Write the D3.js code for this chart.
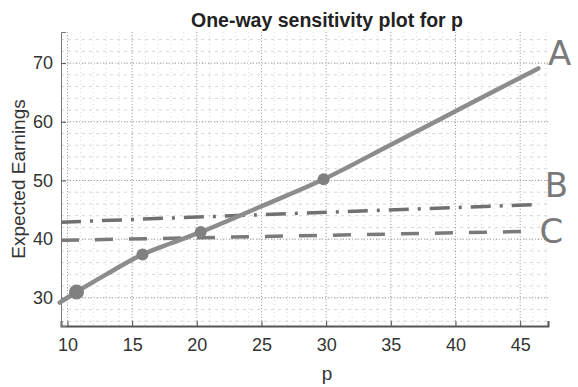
<!DOCTYPE html>
<html>
<head>
<meta charset="utf-8">
<script src="https://cdn.jsdelivr.net/npm/d3@7"></script>
<style>
  body { margin: 0; background: #fff; }
  svg { display: block; font-family: "Liberation Sans", Arial, sans-serif; }
</style>
</head>
<body>
<div id="chart"></div>
<script>
// values
const pA = [9.4, 10.7, 13, 15.8, 18, 20.3, 25, 29.8, 35, 38.7, 42, 46.4]
const eA = [29.2, 31.0, 34.0, 37.4, 39.3, 41.2, 45.6, 50.2, 56.1, 60.3, 64.1, 69.1]
const pMarks = [10.7, 15.8, 20.3, 29.8]
const eMarks = [31.0, 37.4, 41.2, 50.2]
const pB = [9.5, 46.3]
const eB = [42.9, 45.9]
const pC = [9.5, 45.3]
const eC = [39.8, 41.3]
const xTicks = [10, 15, 20, 25, 30, 35, 40, 45]
const yTicks = [30, 40, 50, 60, 70]
const labels = ["A", "B", "C"]

const W = 578, H = 387
const plotL = 61, plotR = 548, plotT = 32, plotB = 326

const svg = d3.select("#chart").append("svg")
	.attr("width", W)
	.attr("height", H)

const x = d3.scaleLinear().domain([9.5, 47.15]).range([plotL, plotR])
const y = d3.scaleLinear().domain([25.2, 75.3]).range([plotB, plotT])

// minor grid
const g = svg.append("g")
g.selectAll(".mx")
	.data(d3.range(10, 47.5, 1))
	.enter().append("line")
	.attr("x1", d => x(d)).attr("x2", d => x(d))
	.attr("y1", plotT).attr("y2", plotB)
	.attr("stroke", "#dcdcdc").attr("stroke-width", 1)
	.attr("stroke-dasharray", "1,3")
g.selectAll(".my")
	.data(d3.range(26, 75.3, 2))
	.enter().append("line")
	.attr("y1", d => y(d)).attr("y2", d => y(d))
	.attr("x1", plotL).attr("x2", plotR)
	.attr("stroke", "#d6d6d6").attr("stroke-width", 1)
	.attr("stroke-dasharray", "3,4")

// major grid
g.selectAll(".gx")
	.data(xTicks)
	.enter().append("line")
	.attr("x1", d => x(d)).attr("x2", d => x(d))
	.attr("y1", plotT).attr("y2", plotB)
	.attr("stroke", "#a8a8a8").attr("stroke-width", 1)
	.attr("stroke-dasharray", "1,2")
g.selectAll(".gy")
	.data(yTicks)
	.enter().append("line")
	.attr("y1", d => y(d)).attr("y2", d => y(d))
	.attr("x1", plotL).attr("x2", plotR)
	.attr("stroke", "#a0a0a0").attr("stroke-width", 1)
	.attr("stroke-dasharray", "1,2")

// axes
const xAxis = svg.append("g")
	.attr("transform", "translate(0," + plotB + ")")
	.call(d3.axisBottom(x).tickValues(xTicks).tickSize(-5).tickPadding(12))
const yAxis = svg.append("g")
	.attr("transform", "translate(" + plotL + ",0)")
	.call(d3.axisLeft(y).tickValues(yTicks).tickSize(-5).tickPadding(8))

xAxis.select(".domain").attr("stroke", "#555").attr("stroke-width", 2)
yAxis.select(".domain").attr("stroke", "#777").attr("stroke-width", 1)
svg.selectAll(".tick line").attr("stroke", "#555")
svg.selectAll(".tick text")
	.attr("font-size", 18)
	.attr("fill", "#333")
	.attr("font-family", "Liberation Sans, Arial, sans-serif")

// lines
const lineGen = d3.line().x(d => x(d[0])).y(d => y(d[1]))

svg.append("path")
	.datum(pB.map((p, i) => [p, eB[i]]))
	.attr("d", lineGen)
	.attr("fill", "none").attr("stroke", "#707070").attr("stroke-width", 3.5)
	.attr("stroke-dasharray", "20,9,3,9")

svg.append("path")
	.datum(pC.map((p, i) => [p, eC[i]]))
	.attr("d", lineGen)
	.attr("fill", "none").attr("stroke", "#7a7a7a").attr("stroke-width", 3.5)
	.attr("stroke-dasharray", "18,16")

svg.append("path")
	.datum(pA.map((p, i) => [p, eA[i]]))
	.attr("d", d3.line().x(d => x(d[0])).y(d => y(d[1])).curve(d3.curveMonotoneX))
	.attr("fill", "none").attr("stroke", "#8c8c8c").attr("stroke-width", 4.5)
	.attr("stroke-linecap", "round")

svg.selectAll(".mark")
	.data(pMarks.map((p, i) => [p, eMarks[i], i]))
	.enter().append("circle")
	.attr("cx", d => x(d[0]))
	.attr("cy", d => y(d[1]))
	.attr("r", d => d[2] === 0 ? 7.5 : 6)
	.attr("fill", "#808080")

// handwritten labels at the line ends
const labelPos = [[47.15, 69.7], [46.9, 47.2], [46.5, 39.3]]
svg.selectAll(".hand")
	.data(labels)
	.enter().append("text")
	.attr("x", (d, i) => x(labelPos[i][0]))
	.attr("y", (d, i) => y(labelPos[i][1]))
	.attr("font-size", 34)
	.attr("fill", "#7a7a7a")
	.attr("font-family", "DejaVu Sans, sans-serif")
	.text(d => d)

// titles
svg.append("text")
	.attr("x", 327).attr("y", 27)
	.attr("text-anchor", "middle")
	.attr("font-size", 19.5).attr("font-weight", "bold")
	.attr("fill", "#222")
	.text("One-way sensitivity plot for p")

svg.append("text")
	.attr("x", 327).attr("y", 380)
	.attr("text-anchor", "middle")
	.attr("font-size", 19).attr("fill", "#333")
	.text("p")

svg.append("text")
	.attr("transform", "translate(25," + (plotT + plotB) / 2 + ") rotate(-90)")
	.attr("text-anchor", "middle")
	.attr("font-size", 19).attr("fill", "#333")
	.text("Expected Earnings")
</script>
</body>
</html>
